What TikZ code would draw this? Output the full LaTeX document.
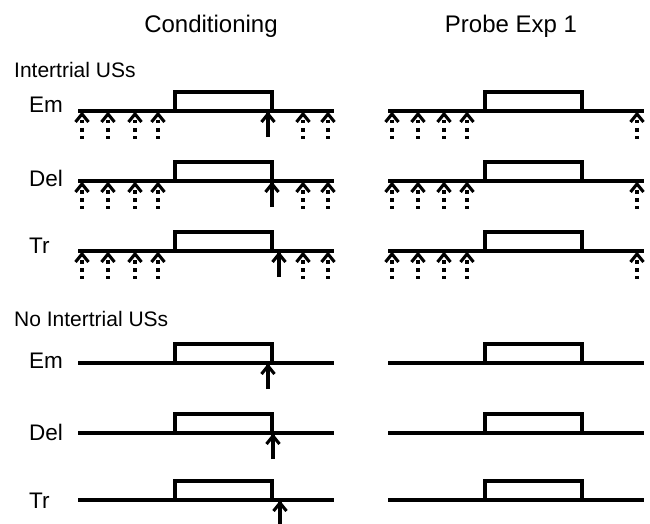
\documentclass[tikz,border=0pt]{standalone}
\usepackage{fontspec}
\setmainfont{Liberation Sans}
\newcommand\trialline[2]{%
  \draw[tl] (#1+78,#2) -- (#1+334,#2);
  \draw[tl,line join=miter] (#1+175,#2) -- (#1+175,#2-19) -- (#1+272,#2-19) -- (#1+272,#2);}
\newcommand\usarrow[2]{%
  \draw[tl] (#1,#2+26) -- (#1,#2+2);
  \draw[tl,line join=miter] (#1-6.5,#2+11) -- (#1,#2+3) -- (#1+6.5,#2+11);}
\newcommand\itarrow[2]{%
  \draw[tl,dash pattern=on 3.5pt off 4.5pt] (#1,#2+9) -- (#1,#2+28);
  \draw[tl,line join=miter] (#1-6.5,#2+11) -- (#1,#2+3) -- (#1+6.5,#2+11);}
\begin{document}
\begin{tikzpicture}[x=1pt,y=-1pt,
  tl/.style={line width=3.1pt},
  lbl/.style={font=\fontsize{22.5}{26}\selectfont, anchor=base west, inner sep=0pt},
  hd/.style={font=\fontsize{24}{28}\selectfont, anchor=base, inner sep=0pt},
  sec/.style={font=\fontsize{21}{25}\selectfont, anchor=base west, inner sep=0pt}]
\useasboundingbox (0,0) rectangle (650,524);
% headings
\node[hd] (hcond) at (211,33) {Conditioning};
\node[hd] (hprobe) at (511,33) {Probe Exp 1};
\node[sec] (sit) at (14,78) {Intertrial USs};
\node[sec] (snoit) at (14,326) {No Intertrial USs};
% row labels
\node[lbl] (lem1) at (29,113) {Em};
\node[lbl] (ldel1) at (29,186) {Del};
\node[lbl] (ltr1) at (29,253) {Tr};
\node[lbl] (lem2) at (29,368) {Em};
\node[lbl] (ldel2) at (29,440) {Del};
\node[lbl] (ltr2) at (29,508) {Tr};
% intertrial rows
\foreach \y/\us in {111/268,181/272,251/279}{
  \trialline{0}{\y}
  \trialline{310}{\y}
  \foreach \x in {82,108,135,158,303,328}{\itarrow{\x}{\y}}
  \foreach \x in {392,418,444,467,637}{\itarrow{\x}{\y}}
  \usarrow{\us}{\y}
}
% no intertrial rows
\foreach \y/\us in {363/268,433/273,500/280}{
  \trialline{0}{\y}
  \trialline{310}{\y}
  \usarrow{\us}{\y}
}
\end{tikzpicture}
\end{document}
